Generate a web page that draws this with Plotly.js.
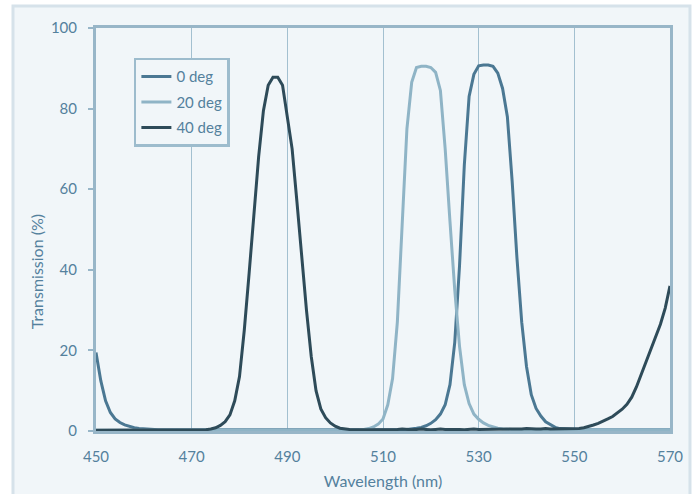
<!DOCTYPE html>
<html>
<head>
<meta charset="utf-8">
<script src="https://cdn.plot.ly/plotly-3.0.1.min.js"></script>
<style>html,body{margin:0;padding:0;background:#fff;}#chart{width:696px;height:494px;}</style>
</head>
<body>
<div id="chart"></div>
<script>
// Wavelength samples (nm)
var wavelength = [450,451,452,453,454,455,456,457,458,459,460,461,462,463,464,465,466,467,468,469,
470,471,472,473,474,475,476,477,478,479,480,481,482,483,484,485,486,487,488,489,
490,491,492,493,494,495,496,497,498,499,500,501,502,503,504,505,506,507,508,509,
510,511,512,513,514,515,516,517,518,519,520,521,522,523,524,525,526,527,528,529,
530,531,532,533,534,535,536,537,538,539,540,541,542,543,544,545,546,547,548,549,
550,551,552,553,554,555,556,557,558,559,560,561,562,563,564,565,566,567,568,569,570];

// Transmission (%) at 0 deg
var t0deg = [19.5,12.5,7.5,4.6,3.0,2.1,1.5,1.1,0.8,0.6,0.5,0.4,0.4,0.3,0.3,0.3,0.2,0.2,0.2,0.2,
0.2,0.2,0.2,0.2,0.2,0.2,0.2,0.2,0.2,0.2,0.2,0.2,0.2,0.2,0.2,0.2,0.2,0.2,0.2,0.2,
0.2,0.2,0.2,0.2,0.2,0.2,0.2,0.2,0.2,0.2,0.2,0.2,0.2,0.2,0.2,0.2,0.2,0.2,0.2,0.2,
0.2,0.2,0.3,0.3,0.3,0.4,0.5,0.7,0.9,1.3,1.9,2.8,4.2,6.5,11.5,22,41,66,83,88.5,
90.6,90.8,90.8,90.5,88.8,85,78,62,43,27,16,9,5.6,3.7,2.3,1.5,0.9,0.6,0.5,0.4,
0.3,0.3,0.3,0.3,0.3,0.3,0.3,0.3,0.3,0.3,0.3,0.3,0.3,0.3,0.3,0.3,0.3,0.3,0.3,0.3,0.3];

// Transmission (%) at 20 deg
var t20deg = [0.2,0.2,0.2,0.2,0.2,0.2,0.2,0.2,0.2,0.2,0.2,0.2,0.2,0.2,0.2,0.2,0.2,0.2,0.2,0.2,
0.2,0.2,0.2,0.2,0.2,0.2,0.2,0.2,0.2,0.2,0.2,0.2,0.2,0.2,0.2,0.2,0.2,0.2,0.2,0.2,
0.2,0.2,0.2,0.2,0.2,0.2,0.2,0.2,0.2,0.2,0.2,0.2,0.2,0.2,0.2,0.3,0.4,0.6,1.0,1.7,
3.0,6.5,13,27,51,75,86.5,90.2,90.5,90.5,90.2,89,84.5,70,52,35,21,11.5,6.8,4.2,
2.9,2.0,1.4,1.0,0.7,0.5,0.4,0.3,0.3,0.3,0.3,0.3,0.3,0.3,0.3,0.3,0.3,0.3,0.3,0.3,
0.3,0.3,0.3,0.3,0.3,0.3,0.3,0.3,0.3,0.3,0.3,0.3,0.3,0.3,0.3,0.3,0.3,0.3,0.3,0.3,0.3];

// Transmission (%) at 40 deg
var t40deg = [0.2,0.2,0.2,0.2,0.2,0.2,0.2,0.2,0.2,0.2,0.2,0.2,0.2,0.2,0.2,0.2,0.2,0.2,0.2,0.2,
0.2,0.2,0.2,0.3,0.5,0.8,1.4,2.3,4,7.5,13.5,25,39,54,68,79.5,85.8,87.8,87.8,85.8,
77.5,70,57,42.5,30,18.5,10,5.5,3.3,2,1.2,0.7,0.5,0.4,0.3,0.3,0.3,0.3,0.3,0.3,
0.3,0.4,0.3,0.4,0.5,0.4,0.3,0.4,0.5,0.4,0.3,0.4,0.5,0.4,0.4,0.5,0.4,0.3,0.4,0.5,
0.4,0.4,0.5,0.4,0.4,0.5,0.5,0.4,0.5,0.5,0.6,0.5,0.5,0.5,0.6,0.5,0.5,0.5,0.5,0.5,
0.5,0.6,0.8,1.1,1.5,1.9,2.4,3.0,3.6,4.4,5.4,6.6,8.4,11,14,17.5,20.5,23.5,26.5,30.5,36];

var seriesNames = ['0 deg', '20 deg', '40 deg'];
var seriesColors = ['#4b7893', '#8fb4c6', '#2e4b59'];
var xTicks = [450, 470, 490, 510, 530, 550, 570];
var yTicks = [0, 20, 40, 60, 80, 100];

var textColor = '#54819d';
var frameColor = '#98b6c8';
var fontFam = 'Lato, "Open Sans", sans-serif';

var allY = [t0deg, t20deg, t40deg];
var traces = allY.map(function (ys, i) {
  return {
    x: wavelength, y: ys, name: seriesNames[i], type: 'scatter', mode: 'lines',
    legendgroup: 'g' + i,
    line: {color: seriesColors[i], width: 3, shape: 'linear'},
    hoverinfo: 'x+y+name'
  };
});

var layout = {
  width: 696, height: 494,
  margin: {l: 96, r: 26, t: 28, b: 63, pad: 0},
  paper_bgcolor: '#ffffff',
  plot_bgcolor: 'rgba(0,0,0,0)',
  font: {family: fontFam, size: 15, color: textColor},
  showlegend: true,
  legend: {
    x: 0.066, y: 0.926, xanchor: 'left', yanchor: 'top',
    bgcolor: '#f1f6f9', bordercolor: '#9dbccd', borderwidth: 2.5,
    font: {family: fontFam, size: 15, color: textColor},
    itemwidth: 30, tracegroupgap: 3, traceorder: 'grouped'
  },
  xaxis: {
    range: [450, 570], tickvals: xTicks, ticktext: xTicks.map(String),
    showgrid: true, gridcolor: '#a3c0d0', gridwidth: 1,
    zeroline: false, showline: true, linecolor: frameColor, linewidth: 3, mirror: true,
    ticks: '', ticklabelstandoff: 10,
    tickfont: {family: fontFam, size: 15, color: textColor},
    title: {text: 'Wavelength (nm)', font: {family: fontFam, size: 16, color: textColor}, standoff: 12}
  },
  yaxis: {
    range: [0, 100], tickvals: yTicks, ticktext: yTicks.map(String),
    showgrid: false, zeroline: false,
    showline: true, linecolor: frameColor, linewidth: 3, mirror: true,
    ticks: 'outside', ticklen: 5, tickwidth: 2, tickcolor: frameColor,
    ticklabelstandoff: 8,
    tickfont: {family: fontFam, size: 15, color: textColor}
  },
  shapes: [{
    type: 'rect', xref: 'paper', yref: 'paper', layer: 'below',
    x0: -0.1446, x1: 1.0348, y0: -0.2, y1: 1.0546,
    fillcolor: '#f1f6f9', line: {color: '#d6e2ea', width: 3}
  }],
  annotations: [{
    text: 'Transmission (%)', textangle: -90, showarrow: false,
    xref: 'paper', yref: 'paper', x: -0.1037, y: 0.395,
    xanchor: 'center', yanchor: 'middle',
    font: {family: fontFam, size: 16, color: textColor}
  }]
};

Plotly.newPlot('chart', traces, layout, {displayModeBar: false, staticPlot: true});
</script>
</body>
</html>
